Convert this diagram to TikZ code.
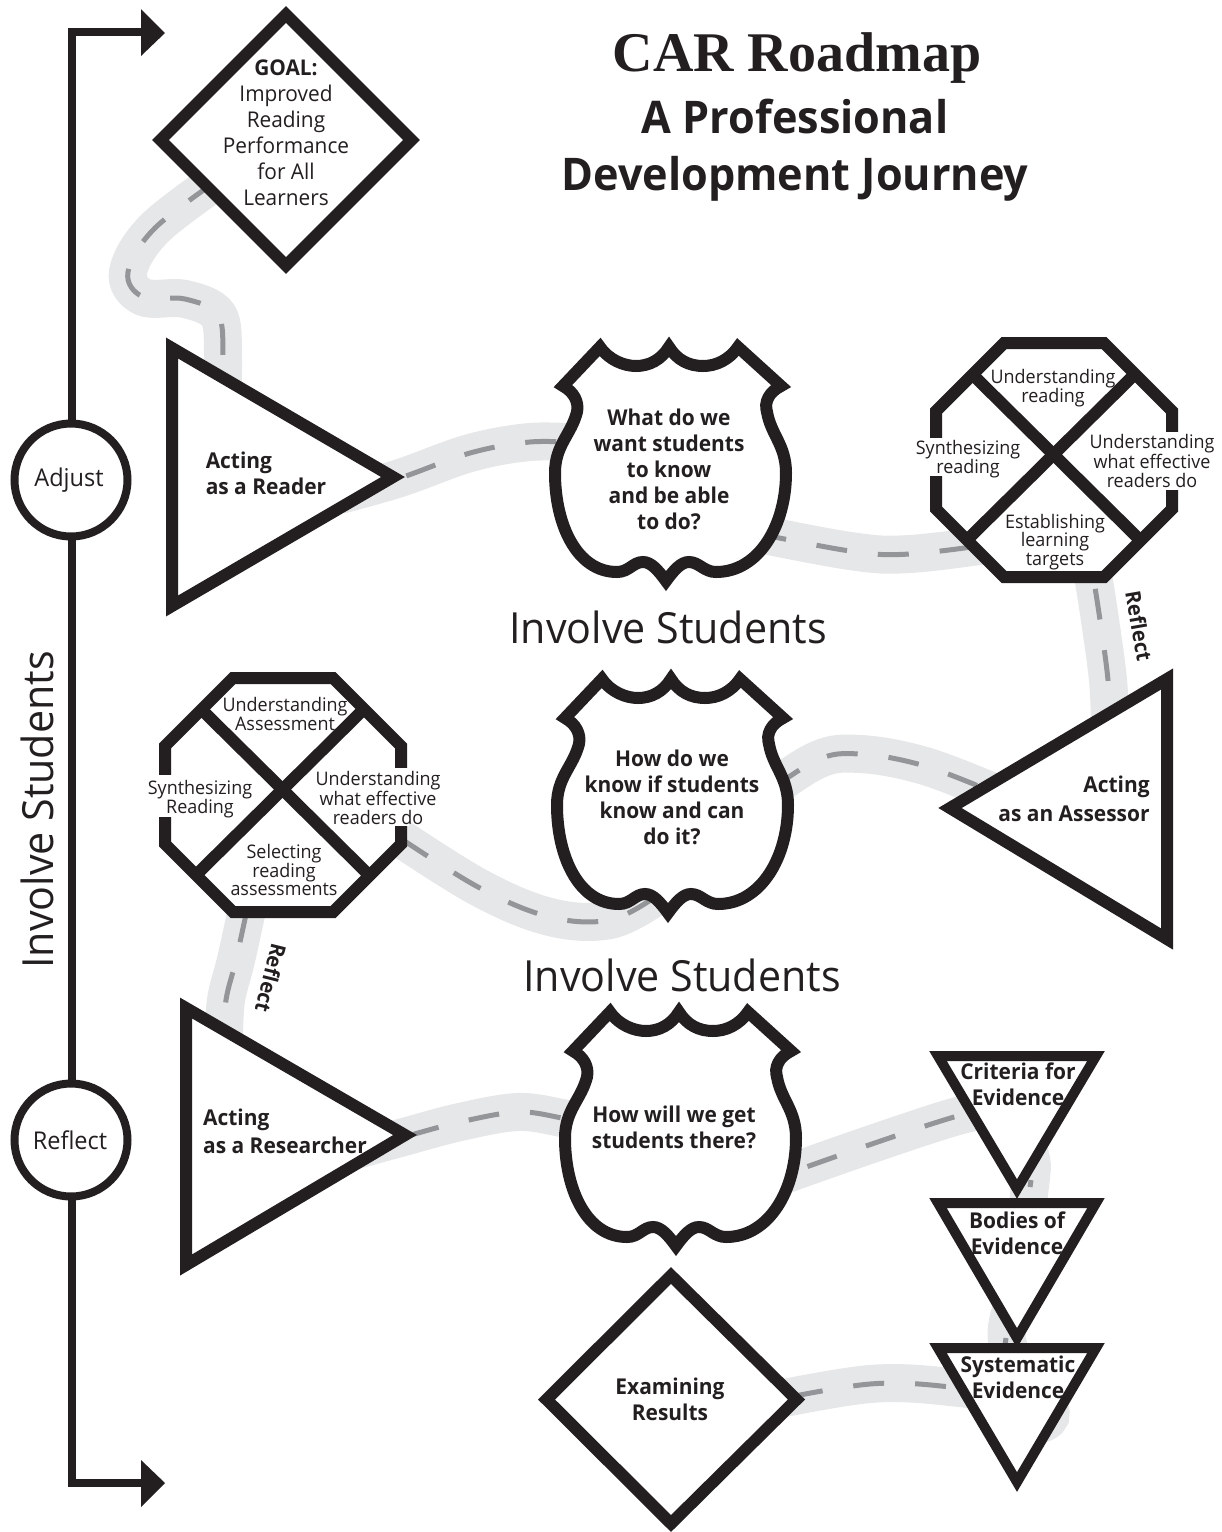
\documentclass[tikz,border=0pt]{standalone}
\usepackage{fontspec}
\setmainfont{Open Sans}[FakeStretch=0.96]
\newfontfamily\titlefont{Liberation Serif}
\definecolor{ink}{HTML}{231F20}
\definecolor{roadbed}{HTML}{E6E7E8}
\definecolor{roadline}{HTML}{939598}
\tikzset{
  roadbase/.style={draw=roadbed,line width=38pt,line cap=butt},
  roadstripe/.style={draw=roadline,line width=5pt,line cap=butt,dash pattern=on 31pt off 31pt},
  sign/.style={draw=ink,fill=white,line width=12pt,line join=miter,miter limit=12},
  smallsign/.style={sign,line width=10pt},
  cross/.style={draw=ink,line width=12pt,line cap=butt},
  rail/.style={draw=ink,line width=8pt,line join=miter},
  tip/.style={fill=ink,draw=none},
  ring/.style={draw=ink,fill=white,line width=8pt,circle,minimum size=113pt,inner sep=0pt,text=ink,font=\fontsize{24.5}{26}\selectfont},
  lab/.style={text=ink,align=center,inner sep=0pt},
  big/.style={lab,font=\fontsize{21.7}{26}\selectfont},
  bigb/.style={lab,font=\fontsize{21.8}{26}\selectfont\bfseries},
  oct/.style={lab,font=\fontsize{18.7}{18.8}\selectfont},
  head/.style={lab,font=\fontsize{45}{57}\selectfont\bfseries},
  inv/.style={lab,font=\fontsize{42.9}{50}\selectfont},
  gap/.style={fill=white,draw=none},
}
\newcommand\roadway[2]{%
  \draw[roadbase] plot[smooth,tension=0.6] coordinates {#1};
  \draw[roadstripe,#2] plot[smooth,tension=0.6] coordinates {#1};
}
\newcommand\shieldsign[2]{%
  \begin{scope}[shift={(#1,#2)}]
  \path[sign] (-106,46) -- (-69,7) .. controls (-60,20) and (-45,26) .. (-33,26)
    .. controls (-20,26) and (-8,20) .. (0,7) .. controls (8,20) and (20,26) .. (34,26)
    .. controls (47,26) and (60,20) .. (69,7) -- (112,46)
    .. controls (100,52) and (95,62) .. (98,72) .. controls (102,95) and (117,105) .. (117,133)
    .. controls (117,185) and (90,232) .. (47,232) .. controls (35,232) and (30,222) .. (20,222)
    .. controls (12,222) and (5,230) .. (-3,241) .. controls (-11,230) and (-18,222) .. (-26,222)
    .. controls (-36,222) and (-40,232) .. (-52,232) .. controls (-92,232) and (-114,185) .. (-114,133)
    .. controls (-114,105) and (-98,95) .. (-92,72) .. controls (-90,62) and (-95,52) .. (-106,46) -- cycle;
  \end{scope}}
\newcommand\octsign[2]{%
  \begin{scope}[shift={(#1,#2)}]
  \path[sign] (-50,-117) -- (50,-117) -- (118,-49) -- (118,49) -- (50,117) -- (-50,117) -- (-118,49) -- (-118,-49) -- cycle;
  \draw[cross] (-81,-85) -- (84,78);
  \draw[cross] (80,-85) -- (-85,78);
  \end{scope}}
\begin{document}
\begin{tikzpicture}[x=1pt,y=-1pt]
\useasboundingbox (0,0) rectangle (1222,1532);
% roads
\roadway{(225,175) (155,228) (128,272) (143,297) (185,299) (218,315) (223,355) (222,395)}{dash phase=49pt}
\roadway{(340,495) (400,478) (470,453) (530,442) (580,443)}{dash phase=55pt}
\roadway{(740,530) (850,551) (910,554) (1000,543)}{dash phase=46pt}
\roadway{(1093,575) (1100,620) (1108,680) (1110,725)}{dash phase=48pt}
\roadway{(1000,795) (925,766) (860,754) (815,761) (750,805)}{dash phase=37pt}
\roadway{(385,828) (478,887) (550,917) (610,920) (655,897)}{dash phase=42pt}
\roadway{(248,905) (236,960) (226,1000) (224,1040)}{dash phase=55pt}
\roadway{(320,1160) (400,1138) (460,1122) (518,1112) (562,1118) (580,1122)}{dash phase=32pt}
\roadway{(750,1187) (866,1146) (954,1117) (1000,1107)}{dash phase=1pt}
\draw[roadbase] plot[smooth,tension=0.6] coordinates {(990,1107) (1028,1150) (1029,1195) (1015,1290) (1008,1345) (1045,1400) (1048,1420) (1020,1430)};
\coordinate (bitA) at (1030,1187);
\coordinate (bitB) at (1031,1180);
\coordinate (bitC) at (1006,1338);
\coordinate (bitD) at (1005,1345);
\draw[roadstripe,dash pattern=on 7pt off 200pt] (bitA) -- (bitB);
\draw[roadstripe,dash pattern=on 7pt off 200pt] (bitC) -- (bitD);
\roadway{(750,1405) (870,1384) (960,1388) (1030,1400)}{dash phase=19pt}
% rail
\coordinate (topend) at (141,32);
\coordinate (botend) at (141,1483);
\draw[rail] (topend) -- (72,32) -- (72,1483) -- (botend);
\fill[tip] (141,9) -- (165,33) -- (141,56) -- cycle;
\fill[tip] (141,1460) -- (165,1483) -- (141,1507) -- cycle;
\node[ring] (adjust) at (71,480) {\raisebox{-2pt}{Adjust}\hspace*{4pt}};
\node[ring] (reflectring) at (71,1140) {Reflect\hspace*{2pt}};
\node[inv,rotate=90] (involveside) at (37,810) {Involve Students};
% diamonds
\path[sign] (286,14.5) -- (411.5,140) -- (286,265.5) -- (160.5,140) -- cycle;
\path[sign] (671,1275.5) -- (796.5,1399.5) -- (671,1523.5) -- (546.5,1399.5) -- cycle;
% triangles
\path[sign] (172,348) -- (393,477) -- (172,606) -- cycle;
\path[sign] (1167,679) -- (950,808) -- (1167,939) -- cycle;
\path[sign] (186,1008) -- (405,1135) -- (186,1265) -- cycle;
\path[smallsign] (938,1056) -- (1096,1056) -- (1017,1189) -- cycle;
\path[smallsign] (938,1203) -- (1096,1203) -- (1017,1338) -- cycle;
\path[smallsign] (938,1348) -- (1096,1348) -- (1017,1482) -- cycle;
% shields
\shieldsign{669}{340}
\shieldsign{671}{672}
\shieldsign{679}{1005}
% octagons
\octsign{1054}{460}
\octsign{283}{795}
\fill[gap] (1165,432) rectangle (1180,490);
\fill[gap] (928,438) rectangle (943,476);
\fill[gap] (394,768) rectangle (409,826);
\fill[gap] (157,775) rectangle (172,817);
% text
\node[lab,font=\titlefont\fontsize{56}{56}\selectfont\bfseries] (title) at (797,58) {CAR Roadmap};
\node[head] (sub) at (795,150) {A Professional\\Development Journey};
\node[big] (goal) at (286,133) {\textbf{GOAL:}\\Improved\\Reading\\Performance\\for All\\Learners};
\node[bigb,align=left] (reader) at (266,473) {Acting\\as a Reader};
\node[bigb] (q1) at (669,469) {What do we\\want students\\to know\\and be able\\to do?};
\node[oct] (o1a) at (1053,388) {Understanding\\reading};
\node[oct] (o1b) at (968,459) {Synthesizing\\reading};
\node[oct] (o1c) at (1152,461) {Understanding\\what effective\\readers do};
\node[oct] (o1d) at (1055,542) {Establishing\\learning\\targets};
\node[inv] (inv1) at (668,627) {Involve Students};
\node[bigb,align=right] (assessor) at (1074,799) {Acting\\[3pt]as an Assessor};
\node[bigb] (q2) at (672,797) {How do we\\know if students\\know and can\\do it?};
\node[oct] (o2a) at (285,714) {Understanding\\Assessment};
\node[oct] (o2b) at (200,799) {Synthesizing\\Reading};
\node[oct] (o2c) at (378,798) {Understanding\\what effective\\readers do};
\node[oct] (o2d) at (284,870) {Selecting\\reading\\assessments};
\node[inv] (inv2) at (682,975) {Involve Students};
\node[bigb,align=left] (researcher) at (285,1131) {Acting\\[2pt]as a Researcher};
\node[bigb] (q3) at (674,1127) {How will we get\\students there?};
\node[bigb] (c1) at (1018,1084) {Criteria for\\Evidence};
\node[bigb] (c2) at (1017,1233) {Bodies of\\Evidence};
\node[bigb] (c3) at (1018,1377) {Systematic\\Evidence};
\node[bigb] (exam) at (670,1399) {Examining\\Results};
\node[lab,font=\fontsize{21}{21}\selectfont\bfseries,rotate=-80] (r1) at (1139,626) {Reflect};
\node[lab,font=\fontsize{21}{21}\selectfont\bfseries,rotate=-104] (r2) at (271,978) {Reflect};
\end{tikzpicture}
\end{document}
